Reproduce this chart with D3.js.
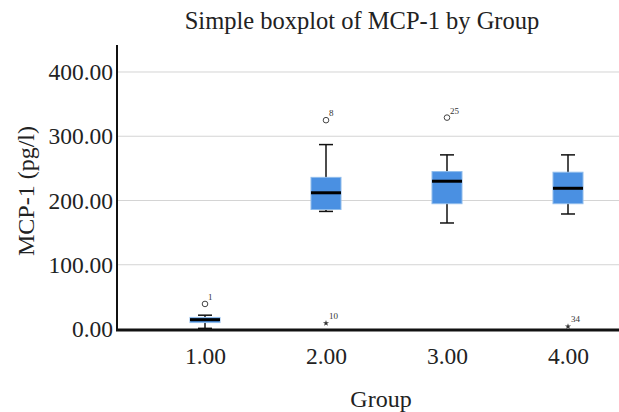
<!DOCTYPE html>
<html>
<head>
<meta charset="utf-8">
<script src="https://cdn.jsdelivr.net/npm/d3@7"></script>
<style>
  body { margin: 0; background: #fff; }
  text { font-family: "Liberation Serif", "DejaVu Serif", serif; }
</style>
</head>
<body>
<div id="chart-area"></div>
<script>
// data
const groups = ["1.00", "2.00", "3.00", "4.00"];
const whiskerLow = [1, 183, 165, 179];
const q1 = [10, 186, 195, 195];
const median = [14.5, 212, 230, 219];
const q3 = [18, 236, 245, 244];
const whiskerHigh = [21.5, 287, 271, 271];
const yTicks = [0, 100, 200, 300, 400];

// mild outliers (circle) and extreme ones (star)
const outlierGroup = ["1.00", "2.00", "3.00"];
const outlierValue = [39, 325, 329];
const outlierCase = ["1", "8", "25"];
const extremeGroup = ["2.00", "4.00"];
const extremeValue = [9, 4];
const extremeCase = ["10", "34"];

const W = 619, H = 412;
const margin = { left: 117, right: 0, top: 45, bottom: 83 };

const svg = d3.select("#chart-area")
    .append("svg")
    .attr("width", W)
    .attr("height", H);

const x = d3.scalePoint()
    .domain(groups)
    .range([205, 568]);

const y = d3.scaleLinear()
    .domain([0, 442])
    .range([H - margin.bottom, margin.top]);

const boxW = 30, capW = 14;

// Title
svg.append("text")
    .attr("x", 362)
    .attr("y", 29)
    .attr("text-anchor", "middle")
    .attr("font-size", "24.5px")
    .attr("fill", "#222")
    .text("Simple boxplot of MCP-1 by Group");

// Gridlines
svg.append("g")
    .selectAll("line")
    .data(yTicks.filter(d => d > 0))
    .enter()
    .append("line")
    .attr("x1", margin.left)
    .attr("x2", W)
    .attr("y1", d => y(d))
    .attr("y2", d => y(d))
    .attr("stroke", "#d4d4d4")
    .attr("stroke-width", 1);

// Y Axis
const yAxis = svg.append("g")
    .attr("transform", "translate(" + margin.left + ",0)")
    .call(d3.axisLeft(y).tickValues(yTicks).tickSize(0).tickPadding(4)
        .tickFormat(d3.format(".2f")));
yAxis.select(".domain").remove();
yAxis.selectAll("text")
    .attr("font-size", "23.5px")
    .attr("fill", "#222")
    .attr("font-family", "Liberation Serif, serif");

svg.append("line")
    .attr("x1", margin.left)
    .attr("x2", margin.left)
    .attr("y1", margin.top)
    .attr("y2", y(0))
    .attr("stroke", "#111")
    .attr("stroke-width", 2);

// X Axis
const xAxis = svg.append("g")
    .attr("transform", "translate(0," + y(0) + ")")
    .call(d3.axisBottom(x).tickSize(0).tickPadding(18));
xAxis.select(".domain").remove();
xAxis.selectAll("text")
    .attr("font-size", "23.5px")
    .attr("fill", "#222")
    .attr("font-family", "Liberation Serif, serif");

// Axis labels
svg.append("text")
    .attr("x", 381)
    .attr("y", 407)
    .attr("text-anchor", "middle")
    .attr("font-size", "24px")
    .attr("fill", "#222")
    .text("Group");

svg.append("text")
    .attr("transform", "translate(34,191) rotate(-90)")
    .attr("text-anchor", "middle")
    .attr("font-size", "24px")
    .attr("fill", "#222")
    .text("MCP-1 (pg/l)");

// Boxes
const boxes = svg.append("g")
    .selectAll("g")
    .data(groups)
    .enter()
    .append("g");

boxes.append("line")
    .attr("x1", d => x(d))
    .attr("x2", d => x(d))
    .attr("y1", (d, i) => y(whiskerLow[i]))
    .attr("y2", (d, i) => y(whiskerHigh[i]))
    .attr("stroke", "#111")
    .attr("stroke-width", 1.5);

boxes.append("line")
    .attr("x1", d => x(d) - capW / 2)
    .attr("x2", d => x(d) + capW / 2)
    .attr("y1", (d, i) => y(whiskerHigh[i]))
    .attr("y2", (d, i) => y(whiskerHigh[i]))
    .attr("stroke", "#111")
    .attr("stroke-width", 1.5);

boxes.append("line")
    .attr("x1", d => x(d) - capW / 2)
    .attr("x2", d => x(d) + capW / 2)
    .attr("y1", (d, i) => y(whiskerLow[i]))
    .attr("y2", (d, i) => y(whiskerLow[i]))
    .attr("stroke", "#111")
    .attr("stroke-width", 1.5);

boxes.append("rect")
    .attr("x", d => x(d) - boxW / 2)
    .attr("width", boxW)
    .attr("y", (d, i) => y(q3[i]))
    .attr("height", (d, i) => y(q1[i]) - y(q3[i]))
    .attr("fill", "#4a90e2")
    .attr("stroke", "#8fbcec")
    .attr("stroke-width", 1);

boxes.append("line")
    .attr("x1", d => x(d) - boxW / 2)
    .attr("x2", d => x(d) + boxW / 2)
    .attr("y1", (d, i) => y(median[i]))
    .attr("y2", (d, i) => y(median[i]))
    .attr("stroke", "#000")
    .attr("stroke-width", 3);

// bottom axis line drawn over the whiskers
svg.append("line")
    .attr("x1", margin.left - 1)
    .attr("x2", W)
    .attr("y1", y(0) + 1)
    .attr("y2", y(0) + 1)
    .attr("stroke", "#111")
    .attr("stroke-width", 3);

// Outliers
const outl = svg.append("g")
    .selectAll("g")
    .data(outlierGroup)
    .enter()
    .append("g")
    .attr("transform", (d, i) => "translate(" + x(d) + "," + y(outlierValue[i]) + ")");

outl.append("circle")
    .attr("r", 2.8)
    .attr("fill", "none")
    .attr("stroke", "#444")
    .attr("stroke-width", 1);

outl.append("text")
    .attr("x", 3)
    .attr("y", -4)
    .attr("font-family", "Liberation Sans, Arial, sans-serif")
    .attr("font-size", "9px")
    .attr("fill", "#333")
    .text((d, i) => outlierCase[i]);

const ext = svg.append("g")
    .selectAll("g")
    .data(extremeGroup)
    .enter()
    .append("g")
    .attr("transform", (d, i) => "translate(" + x(d) + "," + y(extremeValue[i]) + ")");

ext.append("path")
    .attr("d", d3.symbol(d3.symbolStar).size(12))
    .attr("fill", "#333");

ext.append("text")
    .attr("x", 3)
    .attr("y", -4)
    .attr("font-family", "Liberation Sans, Arial, sans-serif")
    .attr("font-size", "9px")
    .attr("fill", "#333")
    .text((d, i) => extremeCase[i]);
</script>
</body>
</html>
